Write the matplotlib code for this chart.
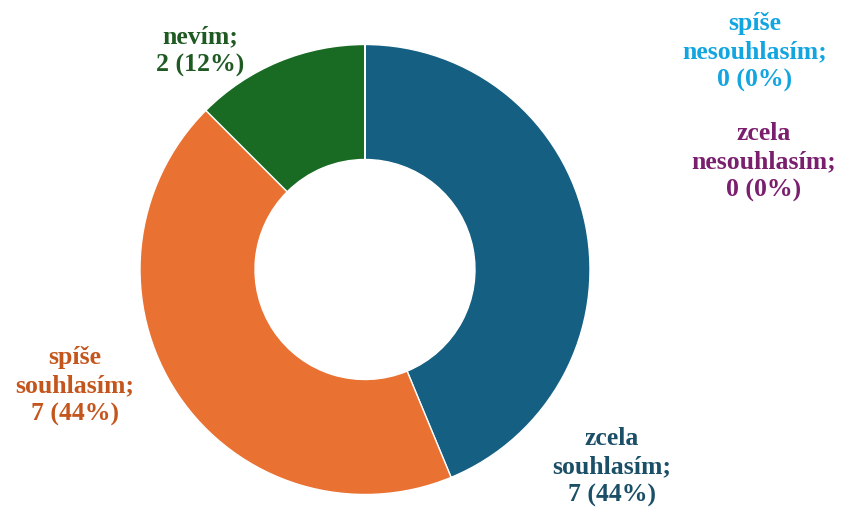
import matplotlib.pyplot as plt

# data
categories = ['zcela souhlasím', 'spíše souhlasím', 'nevím', 'spíše nesouhlasím', 'zcela nesouhlasím']
values = [7, 7, 2, 0, 0]
slice_colors = ['#156082', '#E97132', '#196B24', '#0F9ED5', '#7A1F6E']
label_colors = ['#1B4F68', '#C4561D', '#1E5A22', '#12A5E0', '#7A1F6E']

# label name lines and their centre positions (pixels, from top-left)
label_lines = [['zcela', 'souhlasím;'], ['spíše', 'souhlasím;'], ['nevím;'],
               ['spíše', 'nesouhlasím;'], ['zcela', 'nesouhlasím;']]
label_pos = [(612, 467), (75, 386), (200, 51), (755, 52), (764, 162)]

W, H = 841, 513
fig = plt.figure(figsize=(W / 100, H / 100), dpi=100)
ax = fig.add_axes([0, 0, 1, 1])

total = sum(values)
ax.pie(values, colors=slice_colors, startangle=90, counterclock=False,
       center=(365, H - 269.5), radius=225,
       wedgeprops=dict(width=115, edgecolor='white', linewidth=1))

ax.set_xlim(0, W)
ax.set_ylim(0, H)
ax.set_aspect('equal', adjustable='box')
ax.axis('off')

for name, v, col, pos in zip(label_lines, values, label_colors, label_pos):
    pct = 100 * v / total
    txt = '\n'.join(name + [f'{v} ({pct:.0f}%)'])
    ax.text(pos[0], H - pos[1], txt, ha='center', va='center', color=col,
            fontsize=18.5, fontweight='bold', family='Liberation Serif',
            linespacing=1.3)

fig.savefig('out.png', dpi=100)
